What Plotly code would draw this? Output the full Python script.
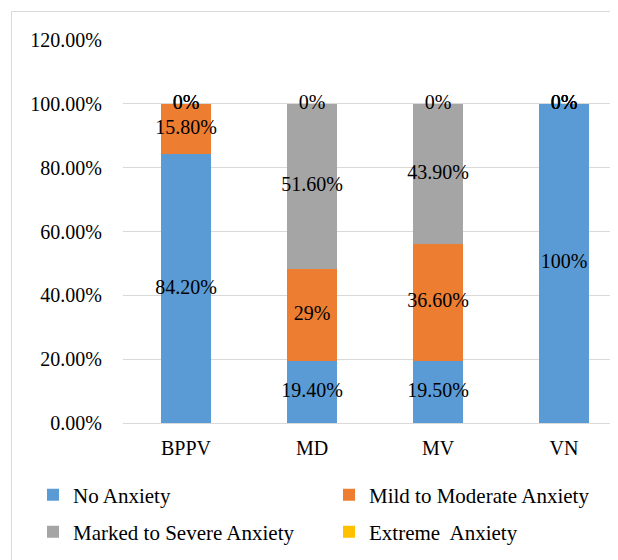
import plotly.graph_objects as go

categories = ["BPPV", "MD", "MV", "VN"]
no_anxiety = [84.2, 19.4, 19.5, 100]
mild_moderate = [15.8, 29, 36.6, 0]
marked_severe = [0, 51.6, 43.9, 0]
extreme = [0, 0, 0, 0]

no_labels = ["84.20%", "19.40%", "19.50%", "100%"]
mild_labels = ["15.80%", "29%", "36.60%", "0%"]
marked_labels = ["0%", "51.60%", "43.90%", "0%"]
extreme_labels = ["0%", "0%", "0%", "0%"]

y_ticks = [0, 20, 40, 60, 80, 100, 120]

series = [
    ("No Anxiety", no_anxiety, no_labels, "#5b9bd5", "legend"),
    ("Mild to Moderate Anxiety", mild_moderate, mild_labels, "#ed7d31", "legend2"),
    ("Marked to Severe Anxiety", marked_severe, marked_labels, "#a5a5a5", "legend3"),
    ("Extreme  Anxiety", extreme, extreme_labels, "#ffc000", "legend4"),
]

FONT = "Liberation Serif"
fig = go.Figure()

base = [0.0] * len(categories)
label_x, label_y, label_t = [], [], []
for name, vals, labels, color, leg in series:
    fig.add_trace(go.Bar(
        name=name, x=categories, y=vals, marker=dict(color=color, line=dict(width=0)),
        width=0.4, legend=leg, hoverinfo="skip",
    ))
    for i, c in enumerate(categories):
        label_x.append(c)
        label_y.append(base[i] + vals[i] / 2)
        label_t.append(labels[i])
        base[i] += vals[i]

fig.add_trace(go.Scatter(
    x=label_x, y=label_y, text=label_t, mode="text",
    textfont=dict(family=FONT, size=20, color="#000000"),
    showlegend=False, hoverinfo="skip", cliponaxis=False,
))

# page body has an 8px margin: figure coords = screen coords - 8
W, H = 610, 552
L, R, T, B = 115, 0, 32, 137
pw = W - L - R
ph = H - T - B

def px_x(x):
    return (x - L) / pw

def px_y(y):
    return (H - B - y) / ph

legend_common = dict(
    orientation="h", xanchor="left", yanchor="middle",
    font=dict(family=FONT, size=21, color="#000000"), bgcolor="rgba(0,0,0,0)",
    itemclick=False, itemdoubleclick=False,
)

fig.update_layout(
    width=W, height=H,
    margin=dict(l=L, r=R, t=T, b=B, pad=0),
    barmode="stack",
    plot_bgcolor="white", paper_bgcolor="white",
    font=dict(family=FONT, size=20, color="#000000"),
    xaxis=dict(
        type="category", range=[-0.5, -0.5 + pw / 126.0],
        showgrid=False, showline=False, zeroline=False, ticks="",
        ticklabelstandoff=11, tickfont=dict(family=FONT, size=20),
    ),
    yaxis=dict(
        range=[0, 120], tickvals=y_ticks,
        ticktext=[f"{v:.2f}%" for v in y_ticks],
        showgrid=True, gridcolor="#d9d9d9", gridwidth=1,
        zeroline=True, zerolinecolor="#d9d9d9", zerolinewidth=1,
        showline=False, ticks="", ticklabelstandoff=20,
        tickfont=dict(family=FONT, size=20),
    ),
    legend=dict(x=px_x(25), y=px_y(487), **legend_common),
    legend2=dict(x=px_x(321), y=px_y(487), **legend_common),
    legend3=dict(x=px_x(25), y=px_y(524), **legend_common),
    legend4=dict(x=px_x(321), y=px_y(524), **legend_common),
    shapes=[dict(
        type="rect", xref="paper", yref="paper",
        x0=px_x(3.5), x1=px_x(W + 20),
        y0=px_y(H + 20), y1=px_y(3.5),
        line=dict(color="#d9d9d9", width=1), fillcolor="rgba(0,0,0,0)", layer="below",
    )],
)

fig.write_html("out.html")
